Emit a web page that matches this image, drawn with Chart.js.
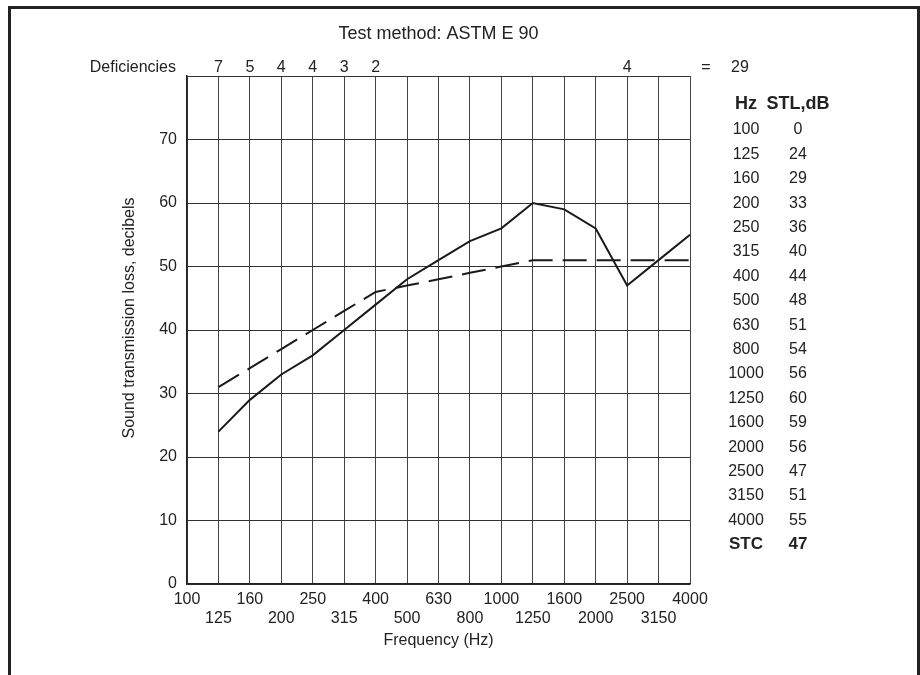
<!DOCTYPE html>
<html>
<head>
<meta charset="utf-8">
<script src="https://cdn.jsdelivr.net/npm/chart.js@4"></script>
<style>
  body { margin: 0; background: #fff; }
  #wrap { width: 920px; height: 675px; position: relative; }
</style>
</head>
<body>
<div id="wrap"><canvas id="stlChart"></canvas></div>
<script>
// frequencies (Hz) and measured transmission loss
var frecuencias = ["100","125","160","200","250","315","400","500","630","800","1000","1250","1600","2000","2500","3150","4000"];
var stl = [0, 24, 29, 33, 36, 40, 44, 48, 51, 54, 56, 60, 59, 56, 47, 51, 55];
// STC 47 reference contour
var contorno = [null, 31, 34, 37, 40, 43, 46, 47, 48, 49, 50, 51, 51, 51, 51, 51, 51];
var deficiencias = [null, 7, 5, 4, 4, 3, 2, null, null, null, null, null, null, null, 4, null, null];
var totalDef = 29;
var stc = 47;
var yTicks = [0, 10, 20, 30, 40, 50, 60, 70];

var fuente = "'Liberation Sans', Arial, sans-serif";
var tinta = "#222";

var extras = {
    id: 'extras',
    afterDraw: function(chart) {
        var ctx = chart.ctx;
        var x = chart.scales.x;
        var area = chart.chartArea;
        ctx.save();
        ctx.fillStyle = tinta;
        ctx.textBaseline = 'middle';

        // frame
        ctx.strokeStyle = "#222";
        ctx.lineWidth = 3;
        ctx.beginPath();
        ctx.moveTo(9.5, 675);
        ctx.lineTo(9.5, 7.5);
        ctx.lineTo(918.5, 7.5);
        ctx.lineTo(918.5, 675);
        ctx.stroke();

        ctx.font = "18px " + fuente;
        ctx.textAlign = 'center';
        ctx.fillText("Test method: ASTM E 90", (area.left + area.right) / 2, 34);

        ctx.font = "16px " + fuente;
        ctx.textAlign = 'right';
        ctx.fillText("Deficiencies", 176, 68);
        ctx.textAlign = 'center';
        deficiencias.forEach(function(d, i) {
            if (d !== null) ctx.fillText(String(d), x.getPixelForValue(i), 68);
        });
        ctx.fillText("=", 706, 68);
        ctx.fillText(String(totalDef), 740, 68);

        // table
        ctx.font = "bold 18px " + fuente;
        ctx.fillText("Hz", 746, 104);
        ctx.fillText("STL,dB", 798, 104);
        ctx.font = "16px " + fuente;
        var paso = 24.4;
        frecuencias.forEach(function(f, i) {
            var yy = 130 + i * paso;
            ctx.fillText(f, 746, yy);
            ctx.fillText(String(stl[i]), 798, yy);
        });
        ctx.font = "bold 17px " + fuente;
        ctx.fillText("STC", 746, 130 + 17 * paso);
        ctx.fillText(String(stc), 798, 130 + 17 * paso);

        // axis titles
        ctx.font = "16px " + fuente;
        ctx.fillText("Frequency (Hz)", (area.left + area.right) / 2, 641);
        ctx.translate(130, 318);
        ctx.rotate(-Math.PI / 2);
        ctx.fillText("Sound transmission loss, decibels", 0, 0);
        ctx.restore();
    }
};

var myChart = new Chart(document.getElementById("stlChart"), {
    type: 'line',
    data: {
        labels: frecuencias,
        datasets: [
        {
            data: stl.map(function(v, i) { return i === 0 ? null : v; }),
            borderColor: "#1a1a1a",
            borderWidth: 2,
            pointRadius: 0,
            tension: 0,
            fill: false
        },
        {
            data: contorno,
            borderColor: "#1a1a1a",
            borderWidth: 2,
            borderDash: [24, 10],
            pointRadius: 0,
            tension: 0,
            fill: false
        }]
    },
    options: {
        responsive: true,
        maintainAspectRatio: false,
        animation: false,
        layout: { padding: { top: 76, right: 230, left: 0, bottom: 0 } },
        plugins: {
            legend: { display: false },
            tooltip: { enabled: false },
            title: { display: false }
        },
        scales: {
            x: {
                offset: false,
                afterFit: function(s) { s.height = 91; },
                grid: { color: "#444", lineWidth: 1, drawTicks: false },
                border: { color: "#222", width: 1.5 },
                ticks: {
                    autoSkip: false,
                    maxRotation: 0,
                    padding: 6,
                    color: tinta,
                    font: { family: fuente, size: 16, lineHeight: 1.2 },
                    callback: function(v, i) {
                        return i % 2 === 0 ? [frecuencias[i], ''] : ['', frecuencias[i]];
                    }
                }
            },
            y: {
                min: 0,
                max: 80,
                afterFit: function(s) { s.width = 187; },
                afterBuildTicks: function(s) {
                    s.ticks = yTicks.concat([80]).map(function(v) { return { value: v }; });
                },
                grid: { color: "#333", lineWidth: 1, drawTicks: false },
                border: { color: "#222", width: 1.5 },
                ticks: {
                    padding: 10,
                    color: tinta,
                    font: { family: fuente, size: 16 },
                    callback: function(v) { return v === 80 ? '' : v; }
                }
            }
        }
    },
    plugins: [extras]
});
</script>
</body>
</html>
